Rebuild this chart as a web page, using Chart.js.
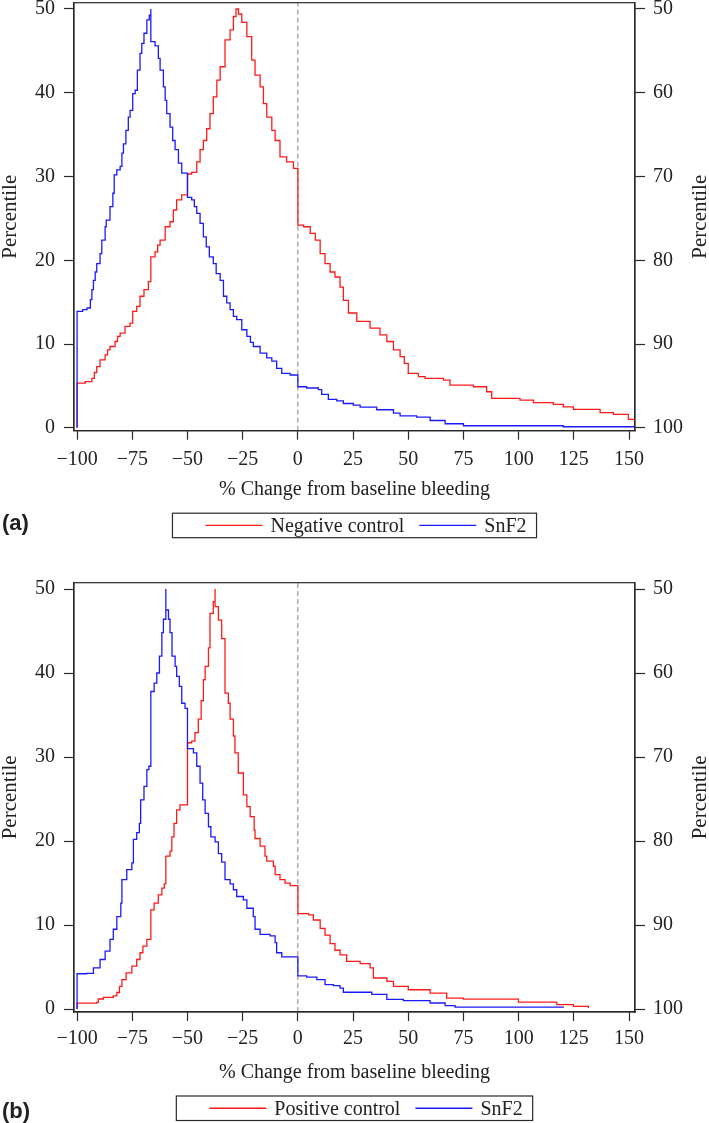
<!DOCTYPE html>
<html><head><meta charset="utf-8">
<script src="https://cdn.jsdelivr.net/npm/chart.js@4.4.1/dist/chart.umd.min.js"></script>
<style>
html,body{margin:0;padding:0;background:#fff;}
#wrap{position:relative;width:709px;height:1123px;overflow:hidden;}
canvas{position:absolute;left:0;}
</style></head><body>
<div id="wrap">
<canvas id="ca" width="709" height="545" style="top:0px"></canvas>
<canvas id="cb" width="709" height="578" style="top:545px"></canvas>
</div>
<script>
// ---------- tick labels ----------
const xTicks = [-100, -75, -50, -25, 0, 25, 50, 75, 100, 125, 150];
const yLeftTicks = [0, 10, 20, 30, 40, 50];
const yRightTicks = [50, 60, 70, 80, 90, 100];
const xTitle = '% Change from baseline bleeding';
const yTitle = 'Percentile';

// ---------- panel (a): Negative control vs SnF2 ----------
const aLabels = ['Negative control', 'SnF2'];
const aNegX = [-100,-100,-96.3,-93.3,-92.2,-91.1,-89.6,-87.3,-86.2,-85.1,-82.8,-81.7,-80.5,-78.3,-76.0,-74.8,-73.0,-71.5,-69.7,-67.7,-66.6,-64.7,-63.5,-62.4,-60.1,-57.9,-56.4,-54.9,-52.6,-50,-48.1,-45.8,-44.3,-42.8,-41.3,-39.8,-38.3,-36.7,-35.2,-33.0,-30.7,-29.2,-28.0,-26.9,-25.4,-23.1,-20.9,-19.4,-17.1,-15.6,-14.1,-11.8,-10.3,-8.1,-5.1,-2.0,0,2.6,5.6,7.9,10.1,12.3,14.6,16.8,19.1,20.6,22.9,26.7,32.7,37.2,40.3,43.3,46.3,48.2,50.0,54.6,57.6,65.9,68.9,79.5,85.5,87.8,100.6,106.7,115.7,120.2,124.8,136.9,142.9,149.7,152.7];
const aNegY = [0,5.33,5.5,5.9,6.6,7.3,8.1,8.7,9.3,9.7,10.3,10.9,11.3,12.1,12.5,13.9,14.5,15.7,16.5,17.45,20.4,21.0,21.8,22.4,24.0,24.6,26.0,27.2,27.8,30.3,30.5,31.75,33.2,34.3,35.7,37.5,39.5,41.5,43.1,46.3,47.5,49.1,50,49.4,48.4,46.7,43.9,42.1,40.7,38.7,37.1,35.5,34.3,32.35,31.75,30.97,24.2,24.0,23.2,22.4,20.8,19.6,18.6,18.0,16.8,15.2,13.7,12.7,11.9,11.1,10.3,9.3,8.5,7.7,6.5,6.1,5.9,5.7,5.1,4.9,4.3,3.5,3.3,3.0,2.8,2.5,2.2,1.8,1.6,1.0,1.0];
const aSnfX = [-100,-100,-97.5,-95.5,-94.0,-93.3,-92.6,-91.8,-91.1,-89.6,-88.8,-87.3,-86.8,-85.1,-83.8,-83.2,-82.0,-80.5,-79.7,-79.0,-77.9,-76.8,-76.0,-74.8,-73.7,-72.7,-71.5,-70.7,-69.7,-68.4,-67.3,-66.6,-66.6,-64.7,-63.2,-62.4,-60.9,-60.1,-59.4,-57.9,-56.7,-55.6,-54.1,-52.6,-50,-48.1,-46.9,-45.8,-44.3,-42.8,-41.5,-40.1,-38.3,-37.0,-35.2,-33.7,-32.2,-30.7,-29.2,-27.7,-25.4,-23.1,-21.5,-20.2,-17.1,-14.1,-11.8,-9.6,-7.3,-3.5,0,4.0,9.3,10.8,13.8,17.6,20.6,25.1,28.2,35.7,43.3,46.3,53.8,59.9,66.7,75.0,120.2,152.7];
const aSnfY = [0,13.9,14.1,14.3,15.3,16.5,17.6,18.6,19.6,20.8,22.4,24.0,24.8,26.4,28.0,30.2,30.8,31.2,32.8,33.9,35.5,37.1,37.9,39.9,40.3,42.7,44.7,45.9,47.1,48.7,49.25,50,46.1,45.6,44.1,42.7,40.7,39.1,37.5,35.9,34.3,33.2,31.6,30.4,27.5,27.2,26.4,25.6,24.4,22.8,21.6,20.4,19.6,18.4,17.6,15.7,14.9,14.1,13.3,12.9,11.7,10.9,10.2,9.7,8.9,8.35,7.95,7.1,6.5,6.3,4.9,4.75,4.55,3.98,3.4,3.2,2.9,2.7,2.47,2.15,1.75,1.43,1.27,0.87,0.48,0.24,0.12,0.12];

// ---------- panel (b): Positive control vs SnF2 ----------
const bLabels = ['Positive control', 'SnF2'];
const bPosX = [-100,-100,-91.1,-90.4,-88.1,-83.6,-82.0,-80.8,-79.7,-77.8,-75.2,-73.0,-71.5,-70.2,-68.4,-66.6,-65.1,-63.2,-61.6,-60.5,-59.8,-57.9,-57.1,-56.1,-54.9,-53.4,-50,-48.1,-46.6,-45.1,-43.8,-42.8,-42.0,-40.5,-39.8,-38.3,-37.5,-37.5,-36.0,-34.5,-33.0,-31.5,-30.7,-29.2,-28.5,-27.0,-24.7,-23.1,-21.6,-19.8,-19.4,-17.1,-14.9,-14.1,-11.1,-10.3,-8.1,-5.8,-3.5,0,4.8,7.0,10.1,12.3,14.6,16.8,19.1,22.1,28.2,32.7,34.2,40.3,43.3,50.0,59.9,67.4,75.0,99.9,117.3,124.8,131.6];
const bPosY = [0,0.71,0.8,1.2,1.4,1.57,1.97,2.7,3.5,4.3,5.1,5.9,6.7,7.5,8.3,11.8,12.6,13.6,14.4,14.9,18.2,18.8,20.5,22.1,23.7,24.3,31.7,31.9,32.9,34.5,36.7,39.2,40.8,43.0,47.1,48.5,50,47.9,46.3,44.1,37.6,36.4,34.5,32.5,30.5,28.1,25.5,24.1,22.9,21.3,20.3,19.4,18.2,17.6,17.0,16.0,15.4,15.0,14.7,11.35,11.2,10.6,9.6,8.8,7.8,7.0,6.45,5.67,5.4,4.9,3.7,3.3,2.7,2.3,1.9,1.3,1.19,0.83,0.52,0.32,0.12];
const bSnfX = [-100,-100,-95.6,-92.6,-89.6,-87.3,-85.1,-83.6,-82.0,-80.2,-79.7,-77.5,-75.2,-74.5,-73.0,-71.8,-71.2,-69.7,-68.4,-67.5,-66.6,-65.1,-63.9,-62.7,-61.6,-60.9,-59.8,-59.8,-58.6,-57.9,-57.0,-55.6,-54.9,-53.7,-52.6,-51.1,-50,-47.3,-45.8,-44.3,-43.1,-42.0,-40.5,-39.4,-37.5,-36.0,-34.5,-33.0,-30.7,-29.2,-27.7,-24.7,-23.1,-20.2,-19.4,-17.1,-12.6,-10.3,-9.6,-7.3,0,4.0,8.6,12.3,16.1,19.1,20.6,33.5,40.3,47.8,59.9,66.7,71.2,120.2];
const bSnfY = [0,4.2,4.25,4.9,5.9,6.9,8.3,9.5,11.0,12.6,15.4,16.6,17.4,20.2,21.0,22.1,24.9,26.5,28.5,28.9,37.8,38.8,40.0,42.0,44.8,46.4,50,47.5,46.4,44.8,42.0,40.8,39.6,38.4,36.4,35.8,31.0,30.5,28.9,26.9,24.9,23.3,21.7,20.5,19.9,18.5,17.5,15.4,14.9,14.2,13.4,13.0,12.0,11.0,9.5,8.9,8.7,7.9,6.7,6.2,3.96,3.8,3.5,2.9,2.8,2.5,2.0,1.74,1.15,1.0,0.72,0.4,0.24,0.15];

// ---------- shared ----------
const X_MIN = -101.4, X_MAX = 152.7;
const Y_MIN = -0.35, Y_MAX = 50.75;
const INK = '#2a2a2a';
const SERIF = '"Liberation Serif", "Times New Roman", serif';

function pts(xs, ys) { return xs.map((x, i) => ({x: x, y: ys[i]})); }
function fmt(v) { return v < 0 ? '\u2212' + Math.abs(v) : String(v); }

const decor = {
  id: 'decor',
  afterDraw(chart, args, o) {
    const ctx = chart.ctx, ca = chart.chartArea;
    ctx.save();
    ctx.strokeStyle = INK; ctx.lineWidth = 1.2;
    ctx.strokeRect(ca.left, ca.top, ca.right - ca.left, ca.bottom - ca.top);
    ctx.fillStyle = '#222';
    ctx.font = '20px ' + SERIF;
    ctx.textAlign = 'center'; ctx.textBaseline = 'middle';
    const cx = (ca.left + ca.right) / 2;
    ctx.fillText(xTitle, cx, ca.bottom + o.titleOff);
    ctx.font = '21px ' + SERIF;
    const cy = (ca.top + ca.bottom) / 2;
    [10, 700].forEach(px => {
      ctx.save(); ctx.translate(px, cy); ctx.rotate(-Math.PI / 2);
      ctx.fillText(yTitle, 0, 0); ctx.restore();
    });
    ctx.font = 'bold 22px "Liberation Sans", Arial, sans-serif';
    ctx.textAlign = 'left';
    ctx.fillText(o.panel, 2, ca.bottom + o.panelOff);
    ctx.font = '20px ' + SERIF;
    const ds = chart.data.datasets.filter(d => d.label);
    const padL = 33, lineLen = 57, gapT = 8, gapItem = 15, padR = 10;
    const widths = ds.map(d => ctx.measureText(d.label).width);
    let boxW = padL + padR + gapItem * (ds.length - 1);
    widths.forEach(w => boxW += lineLen + gapT + w);
    const bx = cx - boxW / 2, by = ca.bottom + o.legendOff, bh = 24.5;
    ctx.strokeStyle = INK; ctx.lineWidth = 1.2;
    ctx.strokeRect(bx, by, boxW, bh);
    let x = bx + padL; const ym = by + bh / 2;
    ds.forEach((d, i) => {
      ctx.strokeStyle = d.borderColor; ctx.lineWidth = 1.3;
      ctx.beginPath(); ctx.moveTo(x, ym); ctx.lineTo(x + lineLen, ym); ctx.stroke();
      x += lineLen + gapT;
      ctx.fillStyle = '#222'; ctx.textBaseline = 'middle';
      ctx.fillText(d.label, x, ym + 1);
      x += widths[i] + gapItem;
    });
    ctx.restore();
  }
};

function makeChart(id, labels, redPts, bluePts, o) {
  const tickFont = {family: SERIF, size: 20};
  return new Chart(document.getElementById(id), {
    type: 'line',
    data: {
      datasets: [
        {label: labels[0], data: redPts, borderColor: '#ff1a1a', borderWidth: 1.3, stepped: 'before', pointRadius: 0, fill: false, order: 2, yAxisID: 'y'},
        {label: labels[1], data: bluePts, borderColor: '#1a1aff', borderWidth: 1.3, stepped: 'before', pointRadius: 0, fill: false, order: 1, yAxisID: 'y'},
        {label: '', data: [{x: 0, y: Y_MIN}, {x: 0, y: Y_MAX}], borderColor: '#888', borderWidth: 1, borderDash: [5, 3], pointRadius: 0, fill: false, order: 3, yAxisID: 'y'}
      ]
    },
    options: {
      responsive: false, animation: false, devicePixelRatio: 1,
      layout: {padding: {top: o.top, left: 0, right: 0, bottom: 0}},
      plugins: {legend: {display: false}, tooltip: {enabled: false}, decor: o},
      scales: {
        x: {
          type: 'linear', position: 'bottom', min: X_MIN, max: X_MAX,
          afterBuildTicks: s => { s.ticks = xTicks.map(v => ({value: v})); },
          afterFit: s => { s.height = o.xH; s.paddingLeft = 0; s.paddingRight = 0; },
          grid: {display: true, drawOnChartArea: false, drawTicks: true, tickLength: 9, tickColor: INK, tickWidth: 1.2},
          border: {display: true, color: INK, width: 1.2},
          ticks: {font: tickFont, color: '#222', padding: o.xPad, maxRotation: 0, autoSkip: false, callback: v => fmt(v)}
        },
        y: {
          type: 'linear', position: 'left', min: Y_MIN, max: Y_MAX,
          afterBuildTicks: s => { s.ticks = yLeftTicks.map(v => ({value: v})); },
          afterFit: s => { s.width = 74; s.paddingTop = 0; s.paddingBottom = 0; },
          grid: {display: true, drawOnChartArea: false, drawTicks: true, tickLength: 10, tickColor: INK, tickWidth: 1.2},
          border: {display: true, color: INK, width: 1.2},
          ticks: {font: tickFont, color: '#222', padding: 9, autoSkip: false, callback: v => fmt(v)}
        },
        y2: {
          type: 'linear', position: 'right', min: 100 - Y_MAX, max: 100 - Y_MIN, reverse: true,
          afterBuildTicks: s => { s.ticks = yRightTicks.map(v => ({value: v})); },
          afterFit: s => { s.width = 74; s.paddingTop = 0; s.paddingBottom = 0; },
          grid: {display: true, drawOnChartArea: false, drawTicks: true, tickLength: 10, tickColor: INK, tickWidth: 1.2},
          border: {display: true, color: INK, width: 1.2},
          ticks: {font: tickFont, color: '#222', padding: 8, autoSkip: false, callback: v => fmt(v)}
        }
      }
    },
    plugins: [decor]
  });
}

makeChart('ca', aLabels, pts(aNegX, aNegY), pts(aSnfX, aSnfY),
  {top: 2.7, xH: 545 - 430.7, xPad: 8, titleOff: 59.3, panelOff: 93.5, legendOff: 82.5, panel: '(a)'});
makeChart('cb', bLabels, pts(bPosX, bPosY), pts(bSnfX, bSnfY),
  {top: 37.7, xH: 578 - 467, xPad: 6, titleOff: 61, panelOff: 100, legendOff: 84, panel: '(b)'});
</script>
</body></html>
